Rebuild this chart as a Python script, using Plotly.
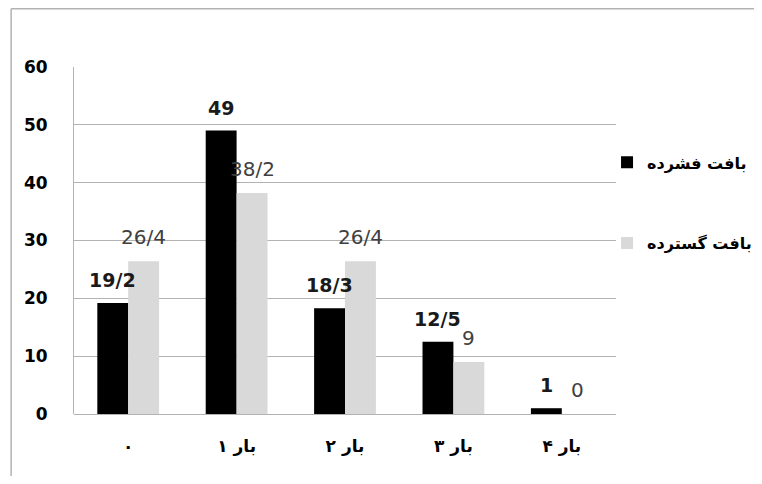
import plotly.graph_objects as go

categories = ["۰", "۱ بار", "۲ بار", "۳ بار", "۴ بار"]
series_names = ["بافت فشرده", "بافت گسترده"]
dense_values = [19.2, 49, 18.3, 12.5, 1]
spread_values = [26.4, 38.2, 26.4, 9, 0]
y_ticks = [0, 10, 20, 30, 40, 50, 60]


def fa_label(v):
    if float(v).is_integer():
        return str(int(v))
    return str(v).replace(".", "/")


FONT = "DejaVu Sans"
BARGAP = 0.43
PLOT_W = 542

fig = go.Figure()
fig.add_trace(go.Bar(
    x=categories, y=dense_values, name=series_names[0],
    marker=dict(color="#000000", line=dict(width=0)),
    legendgroup="a",
))
fig.add_trace(go.Bar(
    x=categories, y=spread_values, name=series_names[1],
    marker=dict(color="#d9d9d9", line=dict(width=0)),
    legendgroup="b",
))

# data labels above each bar
bar_px = PLOT_W / len(categories) * (1 - BARGAP) / 2
annotations = []
for vals, shift, fnt in [
    (dense_values, -bar_px / 2, dict(family=FONT, size=19, color="#1a1a1a", weight="bold")),
    (spread_values, bar_px / 2, dict(family=FONT, size=20, color="#404040")),
]:
    for c, v in zip(categories, vals):
        annotations.append(dict(
            x=c, y=v, xref="x", yref="y", text=fa_label(v), showarrow=False,
            xanchor="center", yanchor="bottom", xshift=shift, yshift=10,
            font=fnt,
        ))

fig.update_layout(
    width=746, height=468,
    margin=dict(l=66, r=138, t=59, b=62, autoexpand=False),
    paper_bgcolor="white", plot_bgcolor="white",
    barmode="group", bargap=BARGAP, bargroupgap=0,
    font=dict(family=FONT, color="#000000"),
    showlegend=True,
    legend=dict(
        xref="container", x=0.803, xanchor="left",
        yref="paper", y=0.774, yanchor="top",
        font=dict(family=FONT, size=16, color="#000000", weight="bold"),
        tracegroupgap=57, bgcolor="rgba(0,0,0,0)",
        itemwidth=30,
    ),
    xaxis=dict(
        showgrid=False, showline=False, ticks="",
        tickfont=dict(family=FONT, size=17, color="#000000", weight="bold"),
        ticklabelstandoff=20,
    ),
    yaxis=dict(
        range=[0, 60], tickvals=y_ticks, showgrid=True, gridcolor="#b3b3b3",
        gridwidth=1, showline=True, linecolor="#b3b3b3", linewidth=1,
        ticks="", zeroline=True, zerolinecolor="#b3b3b3", zerolinewidth=1,
        tickfont=dict(family=FONT, size=17, color="#000000", weight="bold"),
        ticklabelstandoff=22,
    ),
    annotations=annotations,
    shapes=[
        dict(type="line", xref="paper", yref="paper", x0=-0.116, x1=-0.116,
             y0=1.168, y1=-0.3, line=dict(color="#b3b3b3", width=1.5)),
        dict(type="line", xref="paper", yref="paper", x0=-0.116, x1=1.4,
             y0=1.168, y1=1.168, line=dict(color="#b3b3b3", width=1.5)),
    ],
)

fig.write_html("out.html")
